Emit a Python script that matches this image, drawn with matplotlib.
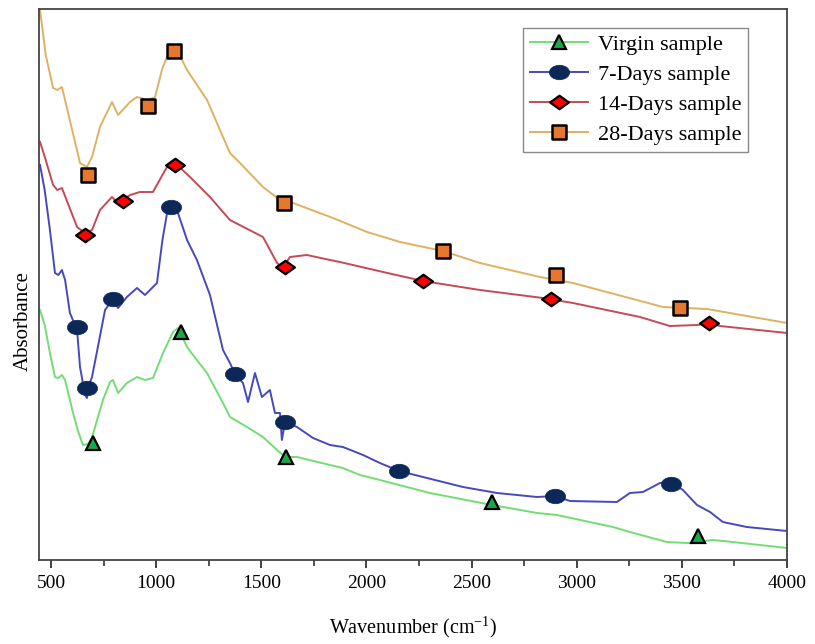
#!/usr/bin/env python3
# FTIR spectra of the aged samples (absorbance is arbitrary, offset traces)
import numpy as np
import matplotlib
matplotlib.use('Agg')
import matplotlib.pyplot as plt
from matplotlib.path import Path
from matplotlib.lines import Line2D
from matplotlib.markers import MarkerStyle
from matplotlib.ticker import MultipleLocator

plt.rcParams['font.family'] = ['Liberation Serif', 'DejaVu Serif']
plt.rcParams['mathtext.fontset'] = 'custom'
plt.rcParams['mathtext.rm'] = 'Liberation Serif'

# --- spectra (wavenumber, absorbance a.u.) ---
virgin_wn = [448, 470, 495, 519, 535, 552, 567, 605, 630, 652, 676, 695, 719, 747, 781,
             795, 819, 861, 909, 947, 985, 1033, 1080, 1104, 1147, 1175, 1242, 1318,
             1351, 1432, 1508, 1575, 1608, 1636, 1670, 1827, 1888, 1969, 2064, 2302,
             2597, 2811, 2906, 3172, 3253, 3429, 3524, 3648, 3743, 4000]
virgin_ab = [2.50, 2.35, 2.07, 1.83, 1.82, 1.85, 1.80, 1.47, 1.28, 1.15, 1.16, 1.22, 1.40,
             1.60, 1.78, 1.80, 1.67, 1.77, 1.83, 1.80, 1.82, 2.07, 2.28, 2.32, 2.13, 2.05,
             1.87, 1.57, 1.43, 1.33, 1.23, 1.10, 1.04, 1.03, 1.03, 0.95, 0.92, 0.85, 0.80,
             0.67, 0.55, 0.47, 0.45, 0.33, 0.28, 0.18, 0.17, 0.20, 0.18, 0.12]

d7_wn = [448, 470, 495, 519, 535, 552, 567, 590, 624, 638, 662, 671, 681, 695, 723, 757,
         795, 819, 861, 909, 947, 985, 1004, 1030, 1052, 1071, 1099, 1147, 1194, 1256,
         1318, 1351, 1375, 1413, 1437, 1470, 1503, 1541, 1565, 1589, 1598, 1613, 1670,
         1746, 1827, 1888, 1984, 2064, 2155, 2269, 2459, 2621, 2811, 2897, 2968, 3191,
         3253, 3315, 3396, 3448, 3505, 3572, 3634, 3695, 3809, 4000]
d7_ab = [3.95, 3.70, 3.30, 2.87, 2.85, 2.90, 2.80, 2.47, 2.30, 1.93, 1.65, 1.62, 1.75,
         1.83, 2.13, 2.50, 2.61, 2.52, 2.63, 2.72, 2.65, 2.73, 2.77, 3.20, 3.47, 3.55,
         3.50, 3.20, 3.00, 2.65, 2.10, 1.97, 1.86, 1.77, 1.58, 1.87, 1.63, 1.70, 1.47,
         1.47, 1.20, 1.38, 1.33, 1.22, 1.15, 1.13, 1.05, 0.97, 0.89, 0.83, 0.73, 0.67,
         0.63, 0.64, 0.59, 0.58, 0.67, 0.68, 0.77, 0.78, 0.70, 0.55, 0.48, 0.38, 0.33,
         0.29]

d14_wn = [448, 475, 510, 530, 552, 624, 662, 695, 733, 790, 814, 842, 876, 923, 985,
          1030, 1052, 1090, 1161, 1256, 1351, 1508, 1575, 1603, 1636, 1717, 1827, 1874,
          2079, 2269, 2540, 2839, 2982, 3301, 3443, 3572, 3629, 3681, 4000]
d14_ab = [4.18, 4.00, 3.75, 3.70, 3.72, 3.33, 3.27, 3.30, 3.50, 3.63, 3.58, 3.60, 3.65,
          3.68, 3.68, 3.85, 3.93, 3.97, 3.83, 3.63, 3.40, 3.23, 2.97, 2.92, 3.03, 3.05,
          3.00, 2.98, 2.88, 2.79, 2.70, 2.62, 2.57, 2.43, 2.34, 2.35, 2.37, 2.34, 2.27]

d28_wn = [448, 475, 510, 530, 552, 638, 671, 695, 733, 790, 819, 876, 909, 961, 995,
          1030, 1052, 1099, 1147, 1242, 1351, 1399, 1508, 1608, 1651, 1841, 2003, 2160,
          2364, 2540, 2825, 2982, 3410, 3619, 4000]
d28_ab = [5.50, 5.05, 4.72, 4.70, 4.73, 3.97, 3.93, 4.03, 4.33, 4.58, 4.45, 4.58, 4.63,
          4.60, 4.63, 4.92, 5.03, 5.10, 4.90, 4.60, 4.07, 3.97, 3.73, 3.57, 3.57, 3.42,
          3.28, 3.18, 3.09, 2.97, 2.83, 2.77, 2.53, 2.51, 2.37]

# marker positions
virgin_mk_wn = [700, 1118, 1617, 2597, 3577]
virgin_mk_ab = [1.17, 2.28, 1.03, 0.58, 0.24]
d7_mk_wn = [624, 671, 795, 1071, 1375, 1613, 2155, 2897, 3448]
d7_mk_ab = [2.33, 1.72, 2.61, 3.53, 1.86, 1.38, 0.89, 0.64, 0.76]
d14_mk_wn = [662, 842, 1090, 1613, 2269, 2878, 3629]
d14_mk_ab = [3.25, 3.59, 3.95, 2.93, 2.79, 2.61, 2.37]
d28_mk_wn = [676, 961, 1085, 1608, 2364, 2901, 3491]
d28_mk_ab = [3.85, 4.54, 5.09, 3.57, 3.09, 2.85, 2.52]

labels = ['Virgin sample', '7-Days sample', '14-Days sample', '28-Days sample']

# custom markers: flattened circle and flattened diamond
circ = Path.unit_circle()
ellipse = Path(circ.vertices * np.array([1.0, 0.72]), circ.codes)
flat_diamond = Path([(-1, 0), (0, -0.72), (1, 0), (0, 0.72), (-1, 0)],
                    [Path.MOVETO, Path.LINETO, Path.LINETO, Path.LINETO, Path.CLOSEPOLY])

styles = [
    dict(color='#74DC74', marker='^', ms=10, mfc='#1BA84C', mec='black', mew=1.6),
    dict(color='#4848BE', marker=ellipse, ms=14.5, mfc='#0B2859', mec='#0B2859', mew=0.5),
    dict(color='#C44A55', marker=flat_diamond, ms=13.5, mfc='#FF0000', mec='black', mew=1.6),
    dict(color='#DEB163', marker=MarkerStyle('s', joinstyle='round'), ms=10.5,
         mfc='#E8772E', mec='black', mew=1.8),
]

curves = [(virgin_wn, virgin_ab, virgin_mk_wn, virgin_mk_ab),
          (d7_wn, d7_ab, d7_mk_wn, d7_mk_ab),
          (d14_wn, d14_ab, d14_mk_wn, d14_mk_ab),
          (d28_wn, d28_ab, d28_mk_wn, d28_mk_ab)]

fig = plt.figure(figsize=(8.15, 6.44), dpi=100)
ax = fig.add_axes([39 / 815, 84 / 644, 748 / 815, 551 / 644])

handles = []
for (wn, ab, mwn, mab), st, lab in zip(curves, styles, labels):
    ax.plot(wn, ab, color=st['color'], lw=1.4, zorder=2)
    ax.plot(mwn, mab, ls='none', marker=st['marker'], ms=st['ms'], mfc=st['mfc'],
            mec=st['mec'], mew=st['mew'], zorder=3)
    handles.append(Line2D([], [], color=st['color'], lw=1.4, marker=st['marker'],
                          ms=st['ms'], mfc=st['mfc'], mec=st['mec'], mew=st['mew'],
                          label=lab))

ax.set_xlim(443, 4000)
ax.set_ylim(0, 5.51)
ax.set_yticks([])
ax.xaxis.set_major_locator(MultipleLocator(500))
ax.xaxis.set_minor_locator(MultipleLocator(250))
ax.tick_params(axis='x', which='major', direction='out', length=6, width=1.3,
               labelsize=14, pad=5, colors='#333333', labelcolor='black')
ax.tick_params(axis='x', which='minor', direction='out', length=4, width=1.2,
               colors='#333333')
ax.tick_params(top=False, right=False)
for s in ax.spines.values():
    s.set_color('#444444')
    s.set_linewidth(1.3)

ax.set_xlabel(r'Wavenumber (cm$^{\mathrm{-1}}$)', fontsize=14.5, labelpad=16)
ax.set_ylabel('Absorbance', fontsize=15)
ax.yaxis.set_label_coords(-0.008, 0.434)

leg = ax.legend(handles=handles, loc='upper right', bbox_to_anchor=(0.948, 0.9655),
                borderaxespad=0, fontsize=16, handlelength=2.6, handletextpad=0.45,
                labelspacing=0.42, borderpad=0.3, fancybox=False, framealpha=1)
leg.get_frame().set_edgecolor('#8A8A8A')
leg.get_frame().set_linewidth(1.0)

fig.savefig('out.png', dpi=100)
